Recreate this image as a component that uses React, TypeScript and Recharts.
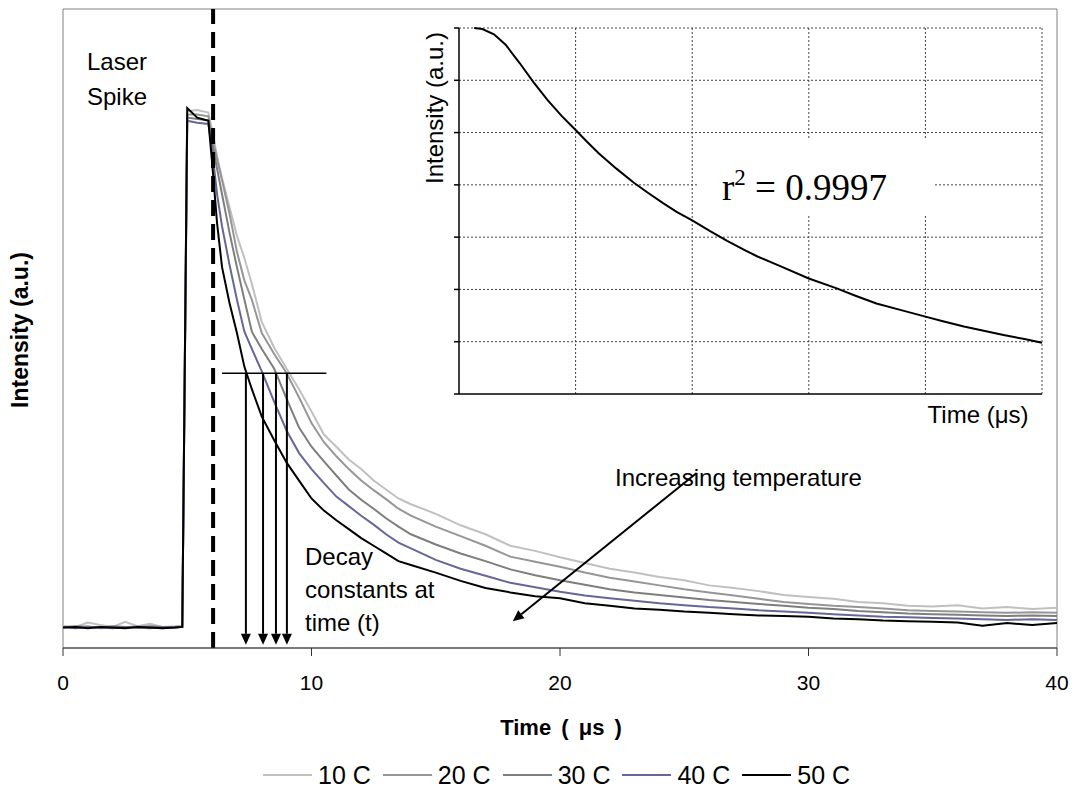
import React from "react"
import { LineChart, Line, XAxis, YAxis, ReferenceLine, ReferenceArea } from "recharts"

// time axis (microseconds), shared by the five temperature traces
const times = [
  0, 0.5, 1, 1.5, 2, 2.5, 3, 3.5, 4, 4.5, 4.8, 5, 5.4, 5.85, 6, 6.2, 6.4, 6.7, 7, 7.3, 7.6, 8, 8.5, 9, 9.5, 10,
  10.5, 11, 11.5, 12, 12.5, 13, 13.5, 14, 15, 16, 17, 18, 19, 20, 21, 22, 23, 24, 25, 26, 27, 28, 29, 30, 31, 32,
  33, 34, 35, 36, 37, 38, 39, 40,
]

const temp10 = [
  0.035, 0.033, 0.04, 0.036, 0.033, 0.041, 0.034, 0.038, 0.033, 0.034, 0.035, 0.84, 0.842, 0.838, 0.81, 0.77, 0.735,
  0.69, 0.645, 0.61, 0.57, 0.51, 0.47, 0.437, 0.405, 0.37, 0.334, 0.315, 0.295, 0.28, 0.262, 0.248, 0.234, 0.225,
  0.21, 0.192, 0.178, 0.16, 0.152, 0.142, 0.133, 0.124, 0.118, 0.111, 0.106, 0.098, 0.094, 0.089, 0.083, 0.08, 0.077,
  0.072, 0.07, 0.066, 0.065, 0.067, 0.062, 0.064, 0.061, 0.063,
]
const temp20 = [
  0.033, 0.032, 0.034, 0.031, 0.033, 0.032, 0.034, 0.033, 0.031, 0.033, 0.034, 0.835, 0.835, 0.832, 0.8, 0.765,
  0.732, 0.68, 0.62, 0.575, 0.545, 0.493, 0.46, 0.43, 0.392, 0.352, 0.322, 0.3, 0.28, 0.262, 0.247, 0.233, 0.218,
  0.207, 0.19, 0.175, 0.16, 0.143, 0.135, 0.127, 0.118, 0.11, 0.104, 0.098, 0.092, 0.087, 0.082, 0.077, 0.072, 0.069,
  0.066, 0.064, 0.062, 0.059, 0.058, 0.057, 0.056, 0.055, 0.056, 0.055,
]
const temp30 = [
  0.032, 0.034, 0.033, 0.032, 0.034, 0.033, 0.032, 0.034, 0.033, 0.032, 0.033, 0.83, 0.828, 0.826, 0.79, 0.75, 0.71,
  0.65, 0.596, 0.545, 0.495, 0.468, 0.437, 0.39, 0.345, 0.315, 0.292, 0.27, 0.248, 0.232, 0.218, 0.203, 0.19, 0.178,
  0.162, 0.148, 0.136, 0.123, 0.114, 0.106, 0.099, 0.092, 0.087, 0.083, 0.079, 0.075, 0.072, 0.069, 0.066, 0.063,
  0.061, 0.058, 0.056, 0.054, 0.053, 0.052, 0.051, 0.05, 0.051, 0.05,
]
const temp40 = [
  0.033, 0.031, 0.033, 0.032, 0.031, 0.033, 0.032, 0.031, 0.033, 0.032, 0.033, 0.825, 0.822, 0.82, 0.78, 0.71, 0.66,
  0.6, 0.545, 0.495, 0.468, 0.433, 0.385, 0.34, 0.305, 0.28, 0.258, 0.237, 0.222, 0.207, 0.193, 0.178, 0.165, 0.156,
  0.138, 0.124, 0.113, 0.102, 0.095, 0.088, 0.082, 0.078, 0.074, 0.07, 0.067, 0.064, 0.062, 0.059, 0.057, 0.055,
  0.053, 0.051, 0.049, 0.048, 0.047, 0.046, 0.045, 0.044, 0.045, 0.044,
]
const temp50 = [
  0.032, 0.033, 0.031, 0.033, 0.032, 0.031, 0.033, 0.032, 0.031, 0.032, 0.033, 0.845, 0.83, 0.825, 0.76, 0.665,
  0.596, 0.54, 0.493, 0.44, 0.405, 0.362, 0.325, 0.29, 0.262, 0.234, 0.215, 0.2, 0.186, 0.172, 0.16, 0.148, 0.136,
  0.13, 0.118, 0.105, 0.094, 0.087, 0.081, 0.078, 0.07, 0.066, 0.062, 0.06, 0.057, 0.055, 0.053, 0.051, 0.05, 0.049,
  0.046, 0.045, 0.043, 0.042, 0.041, 0.04, 0.035, 0.039, 0.036, 0.039,
]

const seriesNames = ["10 C", "20 C", "30 C", "40 C", "50 C"]
const seriesColors = ["#c0c0c0", "#969696", "#7e7e7e", "#666699", "#000000"]
const xTicks = [0, 10, 20, 30, 40]

const decayTimes = [7.36, 8.05, 8.57, 9.01]
const decayLevel = 0.43
const laserTime = 6.04

// inset: single fitted decay
const insetTime = [
  0.13, 0.2, 0.3, 0.4, 0.52, 0.64, 0.76, 0.88, 1.0, 1.1, 1.2, 1.35, 1.5, 1.62, 1.75, 1.87, 2.0, 2.15, 2.3, 2.45,
  2.56, 2.75, 3.0, 3.24, 3.4, 3.58, 3.8, 4.0, 4.15, 4.33, 4.5, 4.67, 4.85, 5.0,
]
const insetIntensity = [
  7.0, 6.98, 6.88, 6.68, 6.33, 5.96, 5.62, 5.32, 5.05, 4.82, 4.6, 4.31, 4.04, 3.85, 3.65, 3.48, 3.32, 3.12, 2.93,
  2.75, 2.63, 2.45, 2.21, 2.02, 1.88, 1.73, 1.6, 1.48, 1.39, 1.29, 1.21, 1.13, 1.05, 0.98,
]
const insetXTicks = [0, 1, 2, 3, 4, 5]
const insetYTicks = [0, 1, 2, 3, 4, 5, 6, 7]

const sans = '"Liberation Sans", Arial, sans-serif'

function ArrowLine(props: any) {
  const { x1, y1, x2, y2 } = props
  const head = 11
  const half = 5
  const dx = x2 - x1
  const dy = y2 - y1
  const len = Math.sqrt(dx * dx + dy * dy) || 1
  const ux = dx / len
  const uy = dy / len
  const bx = x2 - ux * head
  const by = y2 - uy * head
  return (
    <g>
      <line x1={x1} y1={y1} x2={bx} y2={by} stroke="#000" strokeWidth={2} />
      <polygon
        points={`${x2},${y2} ${bx - uy * half},${by + ux * half} ${bx + uy * half},${by - ux * half}`}
        fill="#000"
      />
    </g>
  )
}

function TimeTick(props: any) {
  const { x, y, payload } = props
  return (
    <text x={x} y={y} dy={15} textAnchor="middle" fontSize={21} fontFamily={sans} fill="#000">
      {payload.value}
    </text>
  )
}

export default function App() {
  const chartData = times.map((t, i) => ({
    t,
    s0: temp10[i],
    s1: temp20[i],
    s2: temp30[i],
    s3: temp40[i],
    s4: temp50[i],
  }))
  const insetData = insetTime.map((t, i) => ({ t, v: insetIntensity[i] }))

  return (
    <div style={{ position: "relative", width: 1074, height: 787, fontFamily: sans, background: "#fff" }}>
      <style>{"body{margin:0}"}</style>
      <LineChart width={1074} height={708} data={chartData} margin={{ top: 9, right: 17, bottom: 10, left: 63 }}>
        <XAxis
          dataKey="t"
          type="number"
          domain={[0, 40]}
          ticks={xTicks}
          height={50}
          tickSize={8}
          tickMargin={19}
          stroke="#333"
          tick={<TimeTick />}
        />
        <YAxis type="number" domain={[0, 1]} hide width={0} />
        <ReferenceArea x1={0} x2={40} y1={0} y2={1} fill="none" stroke="#808080" strokeWidth={1} />
        {seriesNames.map((name, i) => (
          <Line
            key={name}
            dataKey={`s${i}`}
            name={name}
            type="linear"
            stroke={seriesColors[i]}
            strokeWidth={2}
            dot={false}
            isAnimationActive={false}
          />
        ))}
        <ReferenceLine x={laserTime} stroke="#000" strokeWidth={4} strokeDasharray="16 8" />
        <ReferenceLine
          segment={[
            { x: 6.4, y: decayLevel },
            { x: 10.6, y: decayLevel },
          ]}
          stroke="#000"
          strokeWidth={1.5}
        />
        {decayTimes.map((t) => (
          <ReferenceLine
            key={t}
            segment={[
              { x: t, y: decayLevel },
              { x: t, y: 0.005 },
            ]}
            shape={ArrowLine}
          />
        ))}
        <ReferenceLine
          segment={[
            { x: 25.5, y: 0.274 },
            { x: 18.1, y: 0.042 },
          ]}
          shape={ArrowLine}
        />
      </LineChart>

      {/* inset */}
      <div style={{ position: "absolute", left: 420, top: 20 }}>
        <LineChart width={640} height={420} data={insetData} margin={{ top: 8, right: 18, bottom: 45, left: 38 }}>
          <XAxis
            dataKey="t"
            type="number"
            domain={[0, 5]}
            ticks={insetXTicks}
            height={1}
            tick={false}
            tickLine={false}
            stroke="#000"
            strokeWidth={1.5}
          />
          <YAxis
            type="number"
            domain={[0, 7]}
            ticks={insetYTicks}
            width={1}
            tick={() => <g />}
            tickSize={5}
            stroke="#000"
            strokeWidth={1.5}
          />
          {insetYTicks.slice(1).map((v) => (
            <ReferenceLine key={`h${v}`} y={v} stroke="#444" strokeDasharray="2 2" />
          ))}
          {insetXTicks.slice(1).map((v) => (
            <ReferenceLine key={`v${v}`} x={v} stroke="#444" strokeDasharray="2 2" />
          ))}
          <Line dataKey="v" type="linear" stroke="#000" strokeWidth={2} dot={false} isAnimationActive={false} />
        </LineChart>
      </div>

      {/* r^2 label over the inset grid */}
      <div
        style={{
          position: "absolute",
          left: 698,
          top: 140,
          width: 237,
          height: 76,
          background: "#fff",
          fontFamily: '"Liberation Serif", "Times New Roman", serif',
          fontSize: 37,
          lineHeight: "76px",
          paddingLeft: 24,
          boxSizing: "border-box",
          whiteSpace: "nowrap",
        }}
      >
        r<sup style={{ fontSize: 23, verticalAlign: 15 }}>2</sup> = 0.9997
      </div>

      <div
        style={{
          position: "absolute",
          left: 435 - 150,
          top: 108 - 13,
          width: 300,
          height: 26,
          lineHeight: "26px",
          textAlign: "center",
          fontSize: 24,
          transform: "rotate(-90deg)",
          whiteSpace: "nowrap",
        }}
      >
        Intensity (a.u.)
      </div>
      <div
        style={{
          position: "absolute",
          left: 878,
          top: 402,
          width: 200,
          textAlign: "center",
          fontSize: 24,
          lineHeight: "26px",
        }}
      >
        Time (μs)
      </div>

      {/* annotations */}
      <div style={{ position: "absolute", left: 87, top: 44, fontSize: 24, lineHeight: "35px" }}>
        Laser
        <br />
        Spike
      </div>
      <div style={{ position: "absolute", left: 305, top: 540, fontSize: 24, lineHeight: "33px" }}>
        Decay
        <br />
        constants at
        <br />
        time (t)
      </div>
      <div style={{ position: "absolute", left: 615, top: 466, fontSize: 24, lineHeight: "24px" }}>
        Increasing temperature
      </div>

      {/* axis titles */}
      <div
        style={{
          position: "absolute",
          left: 20 - 150,
          top: 330 - 13,
          width: 300,
          height: 26,
          lineHeight: "26px",
          textAlign: "center",
          fontSize: 23,
          fontWeight: "bold",
          transform: "rotate(-90deg)",
          whiteSpace: "nowrap",
        }}
      >
        Intensity (a.u.)
      </div>
      <div
        style={{
          position: "absolute",
          left: 461,
          top: 715,
          width: 200,
          textAlign: "center",
          fontSize: 22,
          lineHeight: "26px",
          fontWeight: "bold",
          wordSpacing: 4,
        }}
      >
        Time ( μs )
      </div>

      {/* legend */}
      <div style={{ position: "absolute", left: 263, top: 762, display: "flex", alignItems: "center" }}>
        {seriesNames.map((name, i) => (
          <div key={name} style={{ display: "flex", alignItems: "center", marginRight: 12 }}>
            <div style={{ width: 49, height: 2, background: seriesColors[i], marginRight: 6 }} />
            <span style={{ fontSize: 25, lineHeight: "26px" }}>{name}</span>
          </div>
        ))}
      </div>
    </div>
  )
}
